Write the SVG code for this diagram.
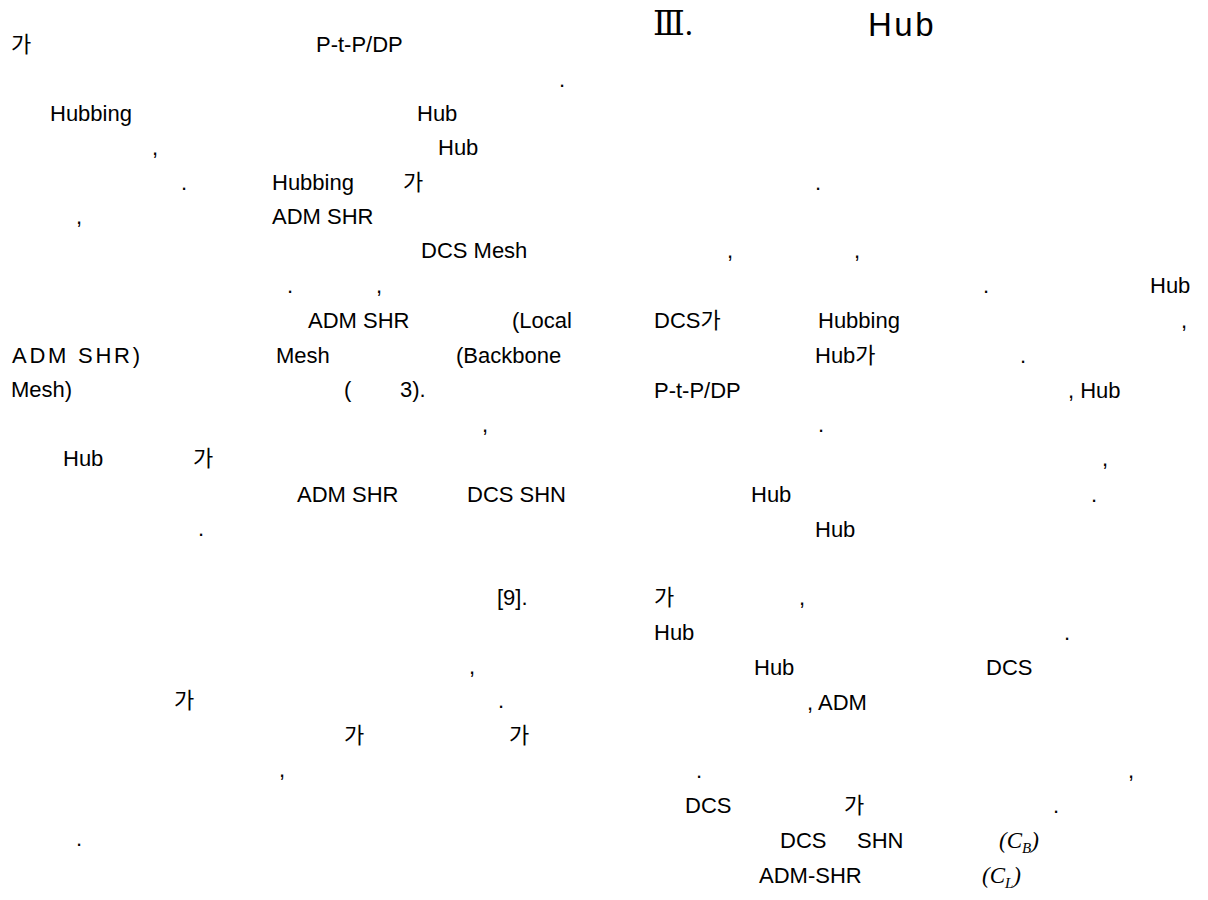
<svg xmlns="http://www.w3.org/2000/svg" width="1208" height="900" viewBox="0 0 1208 900">
<style>
text{font-family:"Liberation Sans","Noto Sans CJK KR",sans-serif;font-size:22px;fill:#000}
.h{font-size:33px;letter-spacing:2.5px}
.r{font-family:"Liberation Serif","DejaVu Serif",serif;font-size:33px}
.m{font-family:"Liberation Serif","DejaVu Serif",serif;font-style:italic;font-size:23px}
.s{font-size:15px}
</style>
<rect width="1208" height="900" fill="#fff"/>
<g id="left-column">
<text x="11" y="52">가</text>
<text x="316" y="52">P-t-P/DP</text>
<text x="559" y="87">.</text>
<text x="50" y="121">Hubbing</text>
<text x="417" y="121">Hub</text>
<text x="152" y="155">,</text>
<text x="438" y="155">Hub</text>
<text x="181" y="190">.</text>
<text x="272" y="190">Hubbing</text>
<text x="403" y="190">가</text>
<text x="76" y="224">,</text>
<text x="272" y="224">ADM SHR</text>
<text x="421" y="258">DCS Mesh</text>
<text x="287" y="293">.</text>
<text x="376" y="293">,</text>
<text x="308" y="328">ADM SHR</text>
<text x="512" y="328">(Local</text>
<text x="12" y="363" textLength="128" lengthAdjust="spacing">ADM SHR)</text>
<text x="276" y="363">Mesh</text>
<text x="456" y="363">(Backbone</text>
<text x="11" y="397">Mesh)</text>
<text x="344" y="397">(</text>
<text x="400" y="397">3).</text>
<text x="482" y="432">,</text>
<text x="63" y="466">Hub</text>
<text x="193" y="466">가</text>
<text x="297" y="502">ADM SHR</text>
<text x="467" y="502">DCS SHN</text>
<text x="198" y="536">.</text>
<text x="497" y="605">[9].</text>
<text x="469" y="674">,</text>
<text x="174" y="708">가</text>
<text x="498" y="708">.</text>
<text x="344" y="743">가</text>
<text x="509" y="743">가</text>
<text x="279" y="777">,</text>
<text x="76" y="846">.</text>
</g>
<g id="right-column">
<text class="r" x="653" y="35">Ⅲ.</text>
<text class="h" x="868" y="36">Hub</text>
<text x="815" y="190">.</text>
<text x="727" y="258">,</text>
<text x="854" y="258">,</text>
<text x="983" y="293">.</text>
<text x="1150" y="293">Hub</text>
<text x="654" y="328">DCS가</text>
<text x="818" y="328">Hubbing</text>
<text x="1181" y="328">,</text>
<text x="815" y="363">Hub가</text>
<text x="1020" y="363">.</text>
<text x="654" y="398">P-t-P/DP</text>
<text x="1068" y="398">, Hub</text>
<text x="818" y="432">.</text>
<text x="1102" y="466">,</text>
<text x="751" y="502">Hub</text>
<text x="1091" y="502">.</text>
<text x="815" y="537">Hub</text>
<text x="654" y="605">가</text>
<text x="799" y="605">,</text>
<text x="654" y="640">Hub</text>
<text x="1064" y="640">.</text>
<text x="754" y="675">Hub</text>
<text x="986" y="675">DCS</text>
<text x="807" y="710">, ADM</text>
<text x="696" y="778">.</text>
<text x="1128" y="778">,</text>
<text x="685" y="813">DCS</text>
<text x="844" y="813">가</text>
<text x="1053" y="813">.</text>
<text x="780" y="848">DCS</text>
<text x="857" y="848">SHN</text>
<text class="m" x="999" y="848">(C<tspan class="s" dy="5">B</tspan><tspan dy="-5">)</tspan></text>
<text x="759" y="883">ADM-SHR</text>
<text class="m" x="982" y="883">(C<tspan class="s" dy="5">L</tspan><tspan dy="-5">)</tspan></text>
</g>
</svg>
